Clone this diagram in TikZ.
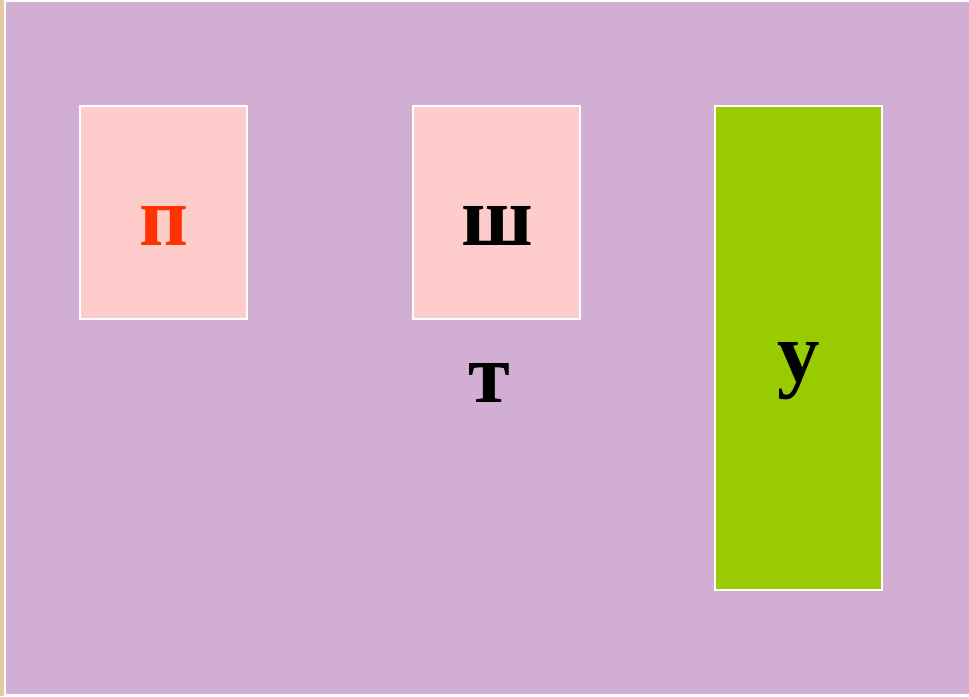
\documentclass[tikz,border=0pt]{standalone}
\usepackage{fontspec}
\setmainfont{Liberation Serif}

\definecolor{lilac}{RGB}{210,174,212}
\definecolor{rose}{RGB}{255,204,204}
\definecolor{leaf}{RGB}{153,204,0}
\definecolor{flame}{RGB}{255,51,0}
\definecolor{sand}{RGB}{230,200,160}

\begin{document}
\begin{tikzpicture}[
    x = 1pt, y = -1pt,
    card/.style={ draw = white, line width = 1.5pt, rectangle,
      minimum width = 167pt, inner sep = 0pt },
    letter/.style={ anchor = base, inner sep = 0pt,
      font = \fontsize{85}{85}\selectfont\bfseries }
    ]
  \useasboundingbox (0,0) rectangle (969,696);
  \fill[sand] (0,0) rectangle (4,696);
  \fill[white] (4,0) rectangle (969,696);
  \fill[lilac] (6,2) rectangle (969,694);
  \node (pcard) [card, fill = rose, minimum height = 213pt] at (163.5,212.5) {};
  \node (shcard) [card, fill = rose, minimum height = 213pt] at (496.5,212.5) {};
  \node (ucard) [card, fill = leaf, minimum height = 484pt] at (798.5,348) {};
  \node (p) [letter, text = flame] at (164,245) {п};
  \node (sh) [letter] at (497,245) {ш};
  \node (t) [letter] at (489,402) {т};
  \node (u) [letter] at (799,381) {у};
\end{tikzpicture}
\end{document}
